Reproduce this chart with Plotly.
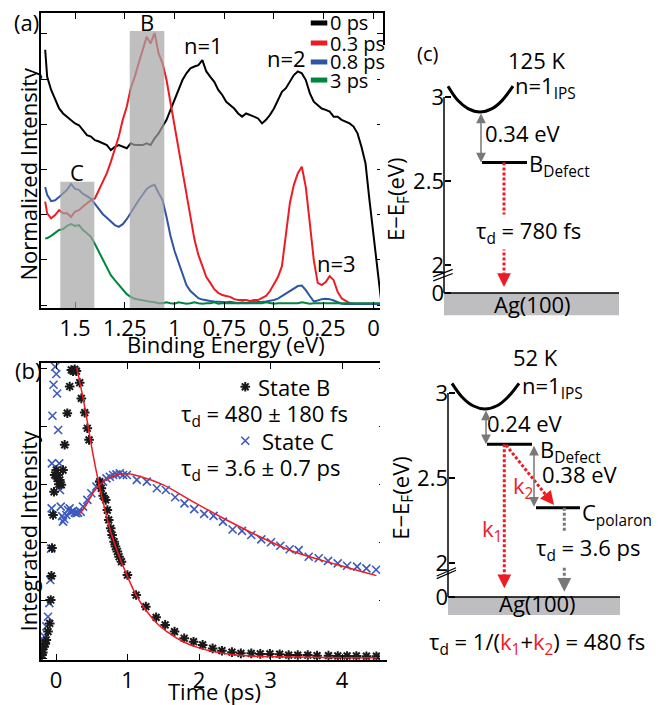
import plotly.graph_objects as go

FONT = "Open Sans"
RED = "rgb(237,28,36)"
BLUE = "rgb(46,84,166)"
GREEN = "rgb(0,133,62)"
GRAY = "rgb(120,120,120)"
STAR = "rgb(25,25,25)"
XBLUE = "rgb(60,90,190)"

# ---------------- panel (a): spectra ----------------
binding_energy = [1.65, 1.64, 1.62, 1.60, 1.58, 1.56, 1.54, 1.52, 1.50, 1.48, 1.46, 1.44, 1.42, 1.40, 1.38, 1.36,
                  1.34, 1.32, 1.30, 1.28, 1.26, 1.24, 1.22, 1.20, 1.18, 1.16, 1.14, 1.12, 1.10, 1.08, 1.06,
                  1.04, 1.02, 1.00, 0.98, 0.96, 0.94, 0.92, 0.90, 0.88, 0.86, 0.84, 0.82, 0.80, 0.78, 0.76,
                  0.74, 0.72, 0.70, 0.68, 0.66, 0.64, 0.62, 0.60, 0.58, 0.56, 0.54, 0.52, 0.50, 0.48, 0.46,
                  0.44, 0.42, 0.40, 0.38, 0.36, 0.34, 0.32, 0.30, 0.28, 0.26, 0.24, 0.22, 0.20, 0.18, 0.16,
                  0.14, 0.12, 0.10, 0.08, 0.06, 0.04, 0.02, 0.00, -0.02, -0.04]
int_0ps = [5.65, 5.05, 4.76, 4.54, 4.35, 4.24, 4.17, 4.10, 4.02, 3.98, 3.87, 3.76, 3.73, 3.65, 3.62, 3.58,
           3.54, 3.43, 3.50, 3.54, 3.50, 3.47, 3.58, 3.54, 3.54, 3.54, 3.58, 3.54, 3.69, 3.80, 3.95,
           4.10, 4.32, 4.54, 4.76, 4.98, 5.13, 5.24, 5.28, 5.31, 5.42, 5.17, 5.05, 4.94, 4.76, 4.65,
           4.50, 4.43, 4.35, 4.24, 4.17, 4.24, 4.21, 4.17, 4.13, 4.02, 4.10, 4.21, 4.35, 4.54, 4.72,
           4.80, 4.94, 5.09, 5.17, 5.13, 4.98, 4.69, 4.50, 4.43, 4.35, 4.32, 4.28, 4.17, 4.17, 4.10,
           4.06, 4.02, 3.95, 3.80, 3.50, 3.14, 2.32, 1.51, 0.70, 0.04]
int_03ps = [2.29, 2.03, 1.92, 1.99, 2.10, 2.03, 2.03, 1.95, 2.07, 2.10, 2.18, 2.25, 2.32, 2.36, 2.55, 2.73,
            2.92, 3.17, 3.43, 3.73, 4.10, 4.39, 4.80, 5.05, 5.35, 5.65, 5.94, 5.79, 6.02, 5.57, 5.35,
            4.98, 4.47, 4.03, 3.50, 3.03, 2.48, 1.95, 1.46, 1.11, 0.84, 0.62, 0.49, 0.35, 0.27, 0.22,
            0.20, 0.18, 0.13, 0.11, 0.11, 0.11, 0.09, 0.11, 0.11, 0.15, 0.20, 0.31, 0.46, 0.62, 0.86,
            1.62, 2.26, 2.66, 2.92, 3.06, 2.61, 1.82, 1.00, 0.49, 0.44, 0.51, 0.64, 0.55, 0.29, 0.15,
            0.09, 0.04, 0.03, 0.02, 0.03, 0.02, 0.03, 0.02, 0.02, 0.03]
int_08ps = [2.61, 2.44, 2.30, 2.32, 2.39, 2.48, 2.55, 2.68, 2.57, 2.55, 2.46, 2.41, 2.35, 2.24, 2.13, 2.01,
            1.93, 1.84, 1.77, 1.73, 1.79, 1.90, 2.04, 2.21, 2.32, 2.44, 2.57, 2.63, 2.66, 2.48, 2.32,
            1.95, 1.53, 1.20, 0.93, 0.66, 0.44, 0.31, 0.22, 0.15, 0.12, 0.10, 0.09, 0.08, 0.07, 0.07,
            0.06, 0.07, 0.06, 0.04, 0.06, 0.04, 0.06, 0.06, 0.07, 0.07, 0.08, 0.09, 0.11, 0.14, 0.20,
            0.25, 0.31, 0.38, 0.42, 0.43, 0.33, 0.20, 0.08, 0.10, 0.13, 0.14, 0.13, 0.10, 0.06, 0.03,
            0.02, 0.03, 0.02, 0.02, 0.03, 0.02, 0.02, 0.03, 0.02, 0.02]
int_3ps = [1.48, 1.48, 1.53, 1.59, 1.66, 1.68, 1.75, 1.79, 1.75, 1.77, 1.66, 1.59, 1.51, 1.35, 1.17, 1.00,
           0.82, 0.66, 0.55, 0.44, 0.33, 0.24, 0.18, 0.14, 0.12, 0.10, 0.08, 0.07, 0.06, 0.04, 0.04,
           0.06, 0.04, 0.03, 0.06, 0.04, 0.03, 0.04, 0.06, 0.04, 0.03, 0.04, 0.04, 0.06, 0.03, 0.04,
           0.04, 0.03, 0.04, 0.04, 0.03, 0.04, 0.04, 0.03, 0.04, 0.04, 0.06, 0.04, 0.03, 0.04, 0.04,
           0.04, 0.03, 0.04, 0.04, 0.06, 0.04, 0.03, 0.04, 0.04, 0.03, 0.04, 0.03, 0.04, 0.04, 0.03,
           0.04, 0.04, 0.03, 0.04, 0.04, 0.03, 0.04, 0.04, 0.03, 0.04]
spectra_labels = ["0 ps", "0.3 ps", "0.8 ps", "3 ps"]
spectra_colors = ["black", RED, BLUE, GREEN]
be_ticks = [1.5, 1.25, 1, 0.75, 0.5, 0.25, 0]
be_ticktext = ["1.5", "1.25", "1", "0.75", "0.5", "0.25", "0"]
region_B = [1.225, 1.051, 6.066]   # BE from, BE to, top
region_C = [1.574, 1.403, 2.73]

# ---------------- panel (b): kinetics ----------------
time_B = [-0.196, -0.185, -0.168, -0.150, -0.136, -0.112, -0.088, -0.074, -0.064, -0.056, -0.042, -0.028,
          -0.018, 0.004, 0.015, 0.028, 0.040, 0.052, 0.074, 0.098, 0.121, 0.158, 0.191, 0.214, 0.238, 0.262,
          0.285, 0.331, 0.354, 0.401, 0.438, 0.462, 0.611, 0.634, 0.660, 0.695, 0.718, 0.737, 0.765, 0.784,
          0.812, 0.831, 0.858, 0.882, 0.915, 0.998, 1.12, 1.256, 1.40, 1.526, 1.657, 1.792, 1.923, 2.05,
          2.19, 2.32, 2.46, 2.585, 2.73, 2.856, 2.99, 3.127, 3.253, 3.38, 3.52, 3.65, 3.81, 3.94, 4.07,
          4.20, 4.34, 4.48]
state_B = [0.011, 0.02, 0.040, 0.05, 0.063, 0.092, 0.120, 0.201, 0.284, 0.38, 0.494, 0.574,
           0.632, 0.649, 0.62, 0.632, 0.60, 0.615, 0.598, 0.649, 0.736, 0.845, 0.937, 0.994, 0.99, 0.996,
           0.99, 0.950, 0.896, 0.847, 0.793, 0.753, 0.609, 0.586, 0.56, 0.546, 0.511, 0.477, 0.448, 0.425,
           0.402, 0.385, 0.368, 0.350, 0.333, 0.287, 0.218, 0.178, 0.141, 0.115, 0.092, 0.069, 0.057, 0.046,
           0.034, 0.026, 0.021, 0.017, 0.017, 0.015, 0.015, 0.014, 0.011, 0.011, 0.011, 0.009, 0.009, 0.008,
           0.008, 0.008, 0.007, 0.007]
time_C = [-0.19, -0.182, -0.168, -0.158, -0.135, -0.112, -0.093, -0.080, -0.070, -0.061, -0.058, -0.050,
          -0.035, -0.012, 0.004, 0.015, 0.030, 0.045, 0.055, 0.066, 0.085, 0.098, 0.115, 0.144, 0.168, 0.191,
          0.214, 0.238, 0.262, 0.285, 0.308, 0.346, 0.378, 0.438, 0.494, 0.564, 0.611, 0.658, 0.705, 0.752,
          0.798, 0.845, 0.892, 0.938, 0.99, 1.13, 1.27, 1.41, 1.536, 1.666, 1.796, 1.932, 2.072, 2.203,
          2.334, 2.469, 2.60, 2.73, 2.87, 3.006, 3.136, 3.267, 3.393, 3.533, 3.673, 3.804, 3.939, 4.07,
          4.21, 4.34, 4.476]
state_C = [0.03, 0.052, 0.06, 0.074, 0.11, 0.143, 0.19, 0.27, 0.378, 0.517, 0.672, 0.836,
           0.943, 1.005, 0.980, 0.913, 0.787, 0.672, 0.580, 0.523, 0.490, 0.471, 0.48, 0.494, 0.511, 0.517,
           0.505, 0.508, 0.502, 0.500, 0.502, 0.505, 0.523, 0.546, 0.569, 0.592, 0.601, 0.609, 0.620, 0.626,
           0.632, 0.634, 0.638, 0.632, 0.632, 0.615, 0.609, 0.586, 0.580, 0.555, 0.534, 0.514, 0.498, 0.491,
           0.471, 0.444, 0.439, 0.425, 0.410, 0.400, 0.388, 0.376, 0.373, 0.350, 0.345, 0.336, 0.327, 0.319,
           0.316, 0.310, 0.305]
fit_time_B = [0.289, 0.383, 0.453, 0.523, 0.593, 0.663, 0.756, 0.849, 0.99, 1.13, 1.27, 1.41, 1.55, 1.78,
              2.02, 2.48, 2.95, 3.42, 4.0, 4.49]
fit_B = [1.003, 0.891, 0.793, 0.695, 0.609, 0.534, 0.443, 0.374, 0.287, 0.213, 0.161, 0.121, 0.092, 0.057,
         0.034, 0.012, 0.006, 0.004, 0.002, 0.002]
fit_time_C = [0.33, 0.40, 0.47, 0.53, 0.60, 0.70, 0.80, 0.90, 1.0, 1.2, 1.5, 1.9, 2.3, 2.8, 3.3, 3.9, 4.48]
fit_C = [0.50, 0.52, 0.55, 0.575, 0.595, 0.615, 0.628, 0.635, 0.636, 0.625, 0.598, 0.542, 0.488, 0.425,
         0.37, 0.325, 0.285]
time_ticks = [0, 1, 2, 3, 4]

# ---------------- panel (c): energy diagrams (eV) ----------------
ips_125K_x = [448, 458, 468, 480, 492, 502, 513]
ips_125K_E = [3.065, 2.979, 2.931, 2.911, 2.931, 2.979, 3.065]
B_125K = 2.611
ips_52K_x = [452, 462, 473, 485, 497, 508, 519]
ips_52K_E = [3.057, 2.977, 2.925, 2.906, 2.925, 2.977, 3.057]
B_52K = 2.698
C_52K = 2.325
E_ticks = [3, 2.5, 2]
zero_top = 1.833   # position of the "0" after the axis break (top)
zero_bot = 1.80    # (bottom)

fig = go.Figure()

# ---- panel (a) traces
for vals, name, col in zip([int_0ps, int_03ps, int_08ps, int_3ps], spectra_labels, spectra_colors):
    fig.add_trace(go.Scatter(x=binding_energy, y=vals, mode="lines", name=name,
                             line=dict(color=col, width=2), showlegend=False, xaxis="x", yaxis="y"))

# ---- panel (b) traces
mk_C = dict(symbol="x-thin-open", size=8, color=XBLUE, line=dict(color=XBLUE, width=1.6))
mk_B = dict(symbol="asterisk-open", size=8, color=STAR, line=dict(color=STAR, width=2))
fig.add_trace(go.Scatter(x=time_C, y=state_C, mode="markers", name="State C", showlegend=False,
                         marker=mk_C, xaxis="x2", yaxis="y2"))
fig.add_trace(go.Scatter(x=time_B, y=state_B, mode="markers", name="State B", showlegend=False,
                         marker=mk_B, xaxis="x2", yaxis="y2"))
fig.add_trace(go.Scatter(x=fit_time_B, y=fit_B, mode="lines", line=dict(color=RED, width=1.5, shape="spline"),
                         showlegend=False, xaxis="x2", yaxis="y2"))
fig.add_trace(go.Scatter(x=fit_time_C, y=fit_C, mode="lines", line=dict(color=RED, width=1.5, shape="spline"),
                         showlegend=False, xaxis="x2", yaxis="y2"))
# legend markers (b)
fig.add_trace(go.Scatter(x=[2.646], y=[0.936], mode="markers", showlegend=False, marker=mk_B,
                         xaxis="x2", yaxis="y2"))
fig.add_trace(go.Scatter(x=[2.646], y=[0.750], mode="markers", showlegend=False, marker=mk_C,
                         xaxis="x2", yaxis="y2"))


# ---- panel (c) diagram traces
def diag_line(x, y, ax, ay, color="black", width=3, dash=None, shape="linear"):
    fig.add_trace(go.Scatter(x=x, y=y, mode="lines", showlegend=False, hoverinfo="skip",
                             line=dict(color=color, width=width, dash=dash, shape=shape),
                             xaxis=ax, yaxis=ay))


# top (125 K)
diag_line([444, 444], [zero_top, 3.0], "x3", "y3", width=1.5)
diag_line([444, 619], [zero_top, zero_top], "x3", "y3", width=1.5)
diag_line(ips_125K_x, ips_125K_E, "x3", "y3", width=3, shape="spline")
diag_line([482, 527], [B_125K, B_125K], "x3", "y3", width=3)
diag_line([504, 504], [B_125K, 1.90], "x3", "y3", color=RED, width=3, dash="3px,2px")
diag_line([433.3, 452.7], [1.930, 1.974], "x3", "y3", width=1.2)
diag_line([433.3, 452.7], [1.906, 1.950], "x3", "y3", width=1.2)
# bottom (52 K)
diag_line([448, 448], [zero_bot, 3.0], "x4", "y4", width=1.5)
diag_line([448, 620], [zero_bot, zero_bot], "x4", "y4", width=1.5)
diag_line(ips_52K_x, ips_52K_E, "x4", "y4", width=3, shape="spline")
diag_line([487, 532], [B_52K, B_52K], "x4", "y4", width=3)
diag_line([536, 580], [C_52K, C_52K], "x4", "y4", width=3)
diag_line([504.3, 504.3], [B_52K, 1.88], "x4", "y4", color=RED, width=3, dash="3px,2px")
diag_line([506, 550], [2.694, 2.37], "x4", "y4", color=RED, width=3, dash="3px,2px")
diag_line([564.3, 564.3], [C_52K, 1.86], "x4", "y4", color=GRAY, width=3, dash="3px,2px")
diag_line([436.7, 456], [1.924, 1.972], "x4", "y4", width=1.2)
diag_line([436.7, 456], [1.908, 1.957], "x4", "y4", width=1.2)

shapes = []
# gray analysis windows (a)
for r in (region_B, region_C):
    shapes.append(dict(type="rect", xref="x", yref="y", x0=r[0], x1=r[1], y0=-0.066, y1=r[2],
                       fillcolor="rgb(164,164,164)", opacity=0.7, line=dict(width=0), layer="above"))
# legend lines (a)
leg_rows = [6.243, 5.80, 5.38, 4.98]
for yy, col in zip(leg_rows, spectra_colors):
    shapes.append(dict(type="line", xref="x", yref="y", x0=0.315, x1=0.232, y0=yy, y1=yy,
                       line=dict(color=col, width=5)))
# Ag(100) substrates
shapes.append(dict(type="rect", xref="x3", yref="y3", x0=444, x1=619, y0=1.702, y1=zero_top,
                   fillcolor="rgb(190,190,192)", line=dict(width=0), layer="below"))
shapes.append(dict(type="rect", xref="x4", yref="y4", x0=448, x1=620, y0=1.694, y1=zero_bot,
                   fillcolor="rgb(190,190,192)", line=dict(width=0), layer="below"))

ann = []


def txt(x, y, text, xref, yref, size=22, color="black", xanchor="center", yanchor="middle", angle=0,
        bg=None):
    d = dict(x=x, y=y, text=text, xref=xref, yref=yref, showarrow=False, xanchor=xanchor,
             yanchor=yanchor, textangle=angle, font=dict(size=size, color=color, family=FONT))
    if bg:
        d.update(bgcolor=bg, borderpad=0)
    ann.append(d)


def arrow(x, y, ax, ay, xref, yref, color, width=2.5, size=1.1, both=False):
    ann.append(dict(x=x, y=y, ax=ax, ay=ay, xref=xref, yref=yref, axref=xref, ayref=yref, text="",
                    showarrow=True, arrowhead=2, arrowsize=size, arrowwidth=width, arrowcolor=color,
                    arrowside="end+start" if both else "end", standoff=0, startstandoff=0))


# panel (a) text
txt(12 / 663, 1 - 22 / 705, "(a)", "paper", "paper", xanchor="left")
txt(1.136, 6.26, "B", "x", "y")
txt(0.852, 5.76, "n=1", "x", "y")
txt(0.439, 5.47, "n=2", "x", "y")
txt(1.489, 2.95, "C", "x", "y")
txt(0.186, 0.93, "n=3", "x", "y")
for yy, lab in zip(leg_rows, spectra_labels):
    txt(0.228, yy, lab, "x", "y", size=20, xanchor="left")
txt(27.5 / 663, 1 - 174 / 705, "Normalized Intensity", "paper", "paper", angle=-90)
txt(226 / 663, 1 - 344 / 705, "Binding Energy (eV)", "paper", "paper")

# panel (b) text
txt(13 / 663, 1 - 370 / 705, "(b)", "paper", "paper", xanchor="left")
txt(27.5 / 663, 1 - 531 / 705, "Integrated Intensity", "paper", "paper", angle=-90)
txt(214 / 663, 1 - 691 / 705, "Time (ps)", "paper", "paper")
txt(2.80, 0.936, "State B", "x2", "y2", xanchor="left")
txt(2.912, 0.840, "τ<sub>d</sub> = 480 ± 180 fs", "x2", "y2")
txt(2.85, 0.750, "State C", "x2", "y2", xanchor="left")
txt(2.856, 0.651, "τ<sub>d</sub> = 3.6 ± 0.7 ps", "x2", "y2")

# panel (c) text, top
txt(427 / 663, 1 - 53 / 705, "(c)", "paper", "paper", size=20)
txt(397 / 663, 1 - 200 / 705, "E−E<sub>F</sub>(eV)", "paper", "paper", angle=-90)
txt(536, 3.220, "125 K", "x3", "y3")
txt(513, 3.06, "n=1<sub>IPS</sub>", "x3", "y3", xanchor="left")
txt(523, 2.786, "0.34 eV", "x3", "y3")
txt(527, 2.595, "B<sub>Defect</sub>", "x3", "y3", xanchor="left")
txt(528, 2.196, "τ<sub>d</sub> = 780 fs", "x3", "y3", bg="white")
txt(532, 1.768, "Ag(100)", "x3", "y3")
arrow(481, B_125K, 481, 2.911, "x3", "y3", GRAY, width=1.5, size=1.3, both=True)
arrow(504, 1.869, 504, 1.93, "x3", "y3", RED, width=2.5, size=1.1)

# panel (c) text, bottom
txt(401.7 / 663, 1 - 498 / 705, "E−E<sub>F</sub>(eV)", "paper", "paper", angle=-90)
txt(535, 3.214, "52 K", "x4", "y4")
txt(520, 3.035, "n=1<sub>IPS</sub>", "x4", "y4", xanchor="left")
txt(525, 2.822, "0.24 eV", "x4", "y4")
txt(538, 2.659, "B<sub>Defect</sub>", "x4", "y4", xanchor="left")
txt(580, 2.522, "0.38 eV", "x4", "y4")
txt(580, 2.288, "C<sub>polaron</sub>", "x4", "y4", xanchor="left")
txt(523, 2.45, "k<sub>2</sub>", "x4", "y4", color=RED)
txt(492, 2.195, "k<sub>1</sub>", "x4", "y4", color=RED)
txt(588, 2.08, "τ<sub>d</sub> = 3.6 ps", "x4", "y4", bg="white")
txt(537, 1.763, "Ag(100)", "x4", "y4")
txt(537, 1.53, "τ<sub>d</sub> = 1/(<span style='color:rgb(237,28,36)'>k<sub>1</sub></span>+"
              "<span style='color:rgb(237,28,36)'>k<sub>2</sub></span>) = 480 fs", "x4", "y4")
arrow(486, B_52K, 486, 2.906, "x4", "y4", GRAY, width=1.5, size=1.3, both=True)
arrow(534, 2.331, 534, B_52K, "x4", "y4", GRAY, width=1.5, size=1.3, both=True)
arrow(504.3, 1.851, 504.3, 1.91, "x4", "y4", RED, width=2.5, size=1.1)
arrow(554, 2.341, 547.8, 2.387, "x4", "y4", RED, width=2.5, size=1.1)
arrow(564.3, 1.831, 564.3, 1.89, "x4", "y4", GRAY, width=2.5, size=1.1)

frame = dict(showline=True, linecolor="black", linewidth=1.5, mirror="ticks", ticks="inside", ticklen=6,
             tickwidth=1, tickcolor="black", showgrid=False, zeroline=False)
diag_y = dict(ticks="inside", ticklen=6, tickwidth=1.5, tickcolor="black", showline=False, showgrid=False,
              zeroline=False, anchor="free", side="left")

fig.update_layout(
    width=663, height=705, margin=dict(l=0, r=0, t=0, b=0),
    paper_bgcolor="white", plot_bgcolor="white",
    font=dict(family=FONT, size=22, color="black"),
    showlegend=False,
    xaxis=dict(domain=[41 / 663, 383 / 663], range=[1.671, -0.048], tickvals=be_ticks, ticktext=be_ticktext,
               anchor="y", **frame),
    yaxis=dict(domain=[1 - 308 / 705, 1 - 13 / 705], range=[-0.066, 6.464], tickvals=[0, 1, 2, 3, 4, 5, 6],
               showticklabels=False, anchor="x", **frame),
    xaxis2=dict(domain=[41 / 663, 385 / 663], range=[-0.21, 4.60], tickvals=time_ticks, anchor="y2", **frame),
    yaxis2=dict(domain=[1 - 660 / 705, 1 - 363 / 705], range=[-0.006, 1.018],
                tickvals=[0, 0.2, 0.4, 0.6, 0.8, 1.0], showticklabels=False, anchor="x2", **frame),
    xaxis3=dict(domain=[380 / 663, 1], range=[380, 663], visible=False, anchor="y3"),
    yaxis3=dict(domain=[1 - 320 / 705, 1 - 45 / 705], range=[1.673, 3.310], position=444 / 663,
                tickvals=E_ticks + [zero_top], ticktext=["3", "2.5", "2", "0"], **diag_y),
    xaxis4=dict(domain=[380 / 663, 1], range=[380, 663], visible=False, anchor="y4"),
    yaxis4=dict(domain=[1 - 660 / 705, 1 - 340 / 705], range=[1.4294, 3.312], position=448 / 663,
                tickvals=E_ticks + [zero_bot], ticktext=["3", "2.5", "2", "0"], **diag_y),
    shapes=shapes,
    annotations=ann,
)

fig.write_html("out.html")
